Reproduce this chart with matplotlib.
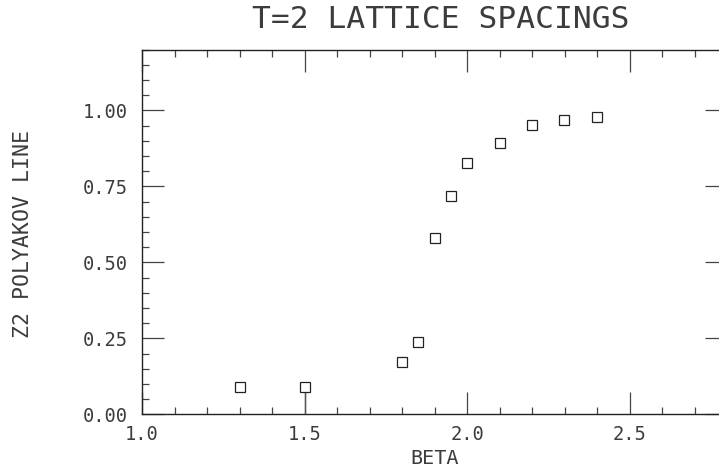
import matplotlib
matplotlib.use("Agg")
import matplotlib.pyplot as plt
from matplotlib.ticker import MultipleLocator, FormatStrFormatter

# Data
beta = [1.30, 1.50, 1.80, 1.85, 1.90, 1.95, 2.00, 2.10, 2.20, 2.30, 2.40]
polyakov = [0.090, 0.090, 0.171, 0.239, 0.580, 0.718, 0.826, 0.893, 0.952, 0.970, 0.980]
err_lo = [0, 0.090, 0, 0, 0, 0, 0, 0, 0, 0, 0]
err_hi = [0, 0, 0, 0, 0, 0, 0, 0, 0, 0, 0]

title = "T=2 LATTICE SPACINGS"
xlabel = "BETA"
ylabel = "Z2 POLYAKOV LINE"

W, H = 719, 469
fig = plt.figure(figsize=(W / 100, H / 100), dpi=100)
FONT = "DejaVu Sans Mono"
TXT = "#3c3c3c"

L, R, T, B = 142, 727, 49.7, 414.3
ax = fig.add_axes([L / W, 1 - B / H, (R - L) / W, (B - T) / H])
ax.set_xlim(1.0, 2.8)
ax.set_ylim(0.0, 1.2)

# error bars (drawn under the markers)
for x, y, lo, hi in zip(beta, polyakov, err_lo, err_hi):
    if lo > 0 or hi > 0:
        ax.plot([x, x], [y - lo, y + hi], color="#555555", lw=1.0, zorder=2,
                clip_on=True)
ax.plot(beta, polyakov, linestyle="none", marker="s", markersize=7.4,
        markerfacecolor="white", markeredgecolor="#222222", markeredgewidth=0.9,
        zorder=3)

for s in ax.spines.values():
    s.set_linewidth(1.0)
    s.set_color("#222222")

ax.xaxis.set_major_locator(MultipleLocator(0.5))
ax.xaxis.set_minor_locator(MultipleLocator(0.1))
ax.yaxis.set_major_locator(MultipleLocator(0.25))
ax.yaxis.set_minor_locator(MultipleLocator(0.05))
ax.xaxis.set_major_formatter(FormatStrFormatter("%.1f"))
ax.yaxis.set_major_formatter(FormatStrFormatter("%.2f"))

ax.tick_params(which="both", direction="in", top=True, right=True,
               color="#444444", width=0.9)
ax.tick_params(which="major", length=15.8)
ax.tick_params(which="minor", length=5.3)
ax.tick_params(axis="x", which="major", pad=8)
ax.tick_params(axis="y", which="major", pad=10)

for lab in ax.get_xticklabels() + ax.get_yticklabels():
    lab.set_fontfamily(FONT)
    lab.set_fontsize(13.5)
    lab.set_color(TXT)

fig.text(441 / W, 1 - 28 / H, title, family=FONT, fontsize=22.5,
         ha="center", va="baseline", color=TXT)
fig.text(434.5 / W, 1 - 464 / H, xlabel, family=FONT, fontsize=14.5,
         ha="center", va="baseline", color=TXT)
fig.text(23.5 / W, 1 - 234 / H, ylabel, family=FONT, fontsize=15.5,
         ha="center", va="center", rotation=90, color=TXT)

fig.savefig("out.png", dpi=100)
